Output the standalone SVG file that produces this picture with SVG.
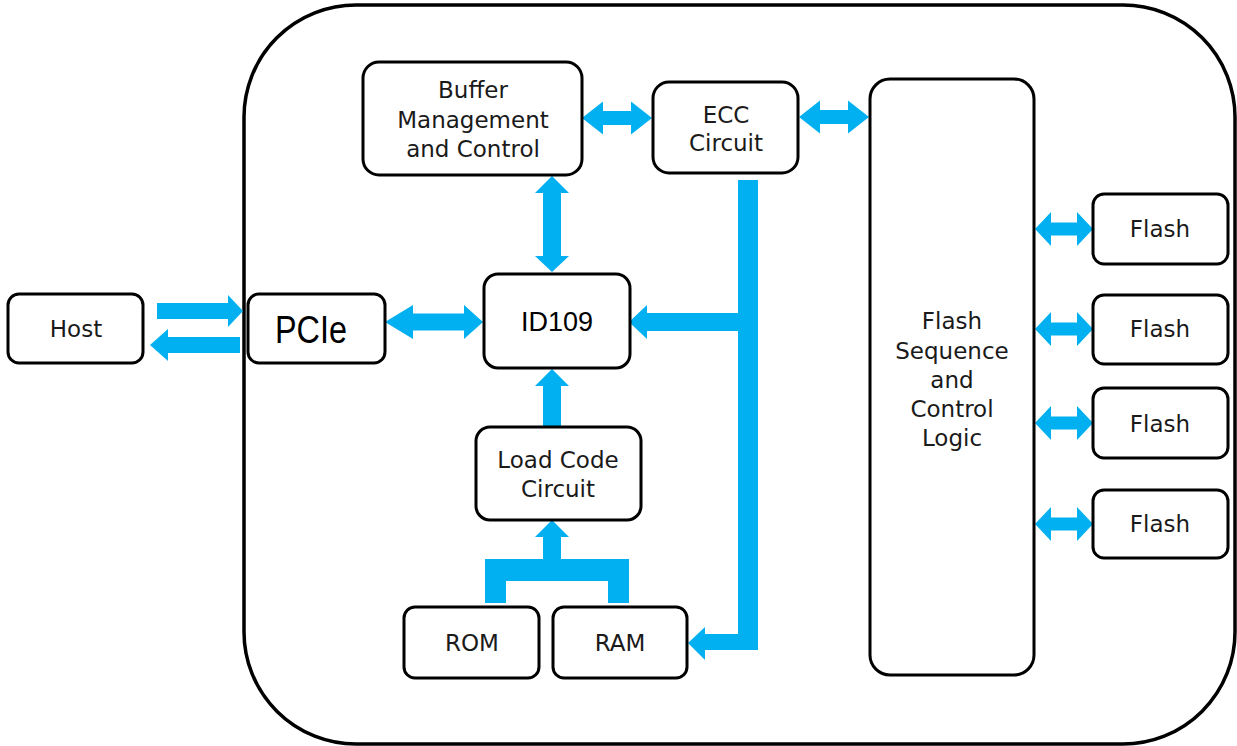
<svg xmlns="http://www.w3.org/2000/svg" width="1237" height="746" viewBox="0 0 1237 746">
<style>
.box{fill:#fff;stroke:#000;stroke-width:3}
.t{font-family:"DejaVu Sans",Verdana,sans-serif;font-size:23px;fill:#1a1a1a;text-anchor:middle}
.c{font-family:"Liberation Sans",Arial,sans-serif;fill:#000;text-anchor:middle}
.a{fill:#00B0F0}
</style>
<rect width="1237" height="746" fill="#fff"/>
<g id="container"><rect x="244" y="5" width="991" height="739" rx="112" ry="112" fill="none" stroke="#000" stroke-width="3.5"/></g>
<g id="connectors">
<polygon class="a" points="157,303 228,303 228,295 243,311 228,327 228,319 157,319"/>
<polygon class="a" points="240,337 168,337 168,329 150,345 168,361 168,353 240,353"/>
<polygon class="a" points="385,322 413,305 413,313.5 464,313.5 464,305 483,322 464,339 464,330.5 413,330.5 413,339"/>
<polygon class="a" points="582,118 603,101.5 603,111 631,111 631,101.5 652,118 631,134.5 631,125 603,125 603,134.5"/>
<polygon class="a" points="799,117 820,100.5 820,110 848,110 848,100.5 869,117 848,133.5 848,124 820,124 820,133.5"/>
<polygon class="a" points="552,176 569,193 561,193 561,256 569,256 552,272 535,256 543,256 543,193 535,193"/>
<polygon class="a" points="552,369 569,386 561,386 561,427 543,427 543,386 535,386"/>
<polygon class="a" points="738,180 758,180 758,650 705,650 705,660 688,643 705,627 705,634 738,634 738,331 647,331 647,339 629,322 647,305 647,313 738,313"/>
<polygon class="a" points="485,603 485,559 543,559 543,537 535,537 552,520 569,537 561,537 561,559 629,559 629,603 608,603 608,581 506,581 506,603"/>
<polygon class="a" points="1035,229 1051,212 1051,222.5 1077,222.5 1077,212 1093,229 1077,246 1077,235.5 1051,235.5 1051,246"/>
<polygon class="a" points="1035,329 1051,312 1051,322.5 1077,322.5 1077,312 1093,329 1077,346 1077,335.5 1051,335.5 1051,346"/>
<polygon class="a" points="1035,423 1051,406 1051,416.5 1077,416.5 1077,406 1093,423 1077,440 1077,429.5 1051,429.5 1051,440"/>
<polygon class="a" points="1035,524 1051,507 1051,517.5 1077,517.5 1077,507 1093,524 1077,541 1077,530.5 1051,530.5 1051,541"/>
</g>
<g id="host"><rect class="box" x="8" y="294" width="135" height="69" rx="11"/><text class="t" x="76" y="337">Host</text></g>
<g id="pcie"><rect class="box" x="248" y="294" width="137" height="69" rx="11"/><text class="c" x="311" y="343" font-size="38" textLength="72" lengthAdjust="spacingAndGlyphs">PCIe</text></g>
<g id="buffer"><rect class="box" x="363" y="62" width="219" height="113" rx="16"/><text class="t" x="473" y="98">Buffer</text><text class="t" x="473" y="128">Management</text><text class="t" x="473" y="157">and Control</text></g>
<g id="ecc"><rect class="box" x="653" y="82" width="145" height="91" rx="16"/><text class="t" x="726" y="123">ECC</text><text class="t" x="726" y="151">Circuit</text></g>
<g id="id109"><rect class="box" x="484" y="274" width="146" height="94" rx="14"/><text class="c" x="557" y="331" font-size="27">ID109</text></g>
<g id="loadcode"><rect class="box" x="476" y="427" width="165" height="93" rx="14"/><text class="t" x="558" y="468">Load Code</text><text class="t" x="558" y="497">Circuit</text></g>
<g id="rom"><rect class="box" x="404" y="607" width="135" height="71" rx="11"/><text class="t" x="472" y="651">ROM</text></g>
<g id="ram"><rect class="box" x="553" y="607" width="134" height="71" rx="11"/><text class="t" x="620" y="651">RAM</text></g>
<g id="flashseq"><rect class="box" x="870" y="79" width="164" height="596" rx="20"/><text class="t" x="952" y="329">Flash</text><text class="t" x="952" y="359">Sequence</text><text class="t" x="952" y="388">and</text><text class="t" x="952" y="417">Control</text><text class="t" x="952" y="446">Logic</text></g>
<g id="flash1"><rect class="box" x="1093" y="194" width="135" height="70" rx="11"/><text class="t" x="1160" y="237">Flash</text></g>
<g id="flash2"><rect class="box" x="1093" y="295" width="135" height="69" rx="11"/><text class="t" x="1160" y="337">Flash</text></g>
<g id="flash3"><rect class="box" x="1093" y="388" width="135" height="70" rx="11"/><text class="t" x="1160" y="432">Flash</text></g>
<g id="flash4"><rect class="box" x="1093" y="490" width="135" height="68" rx="11"/><text class="t" x="1160" y="532">Flash</text></g>
</svg>
